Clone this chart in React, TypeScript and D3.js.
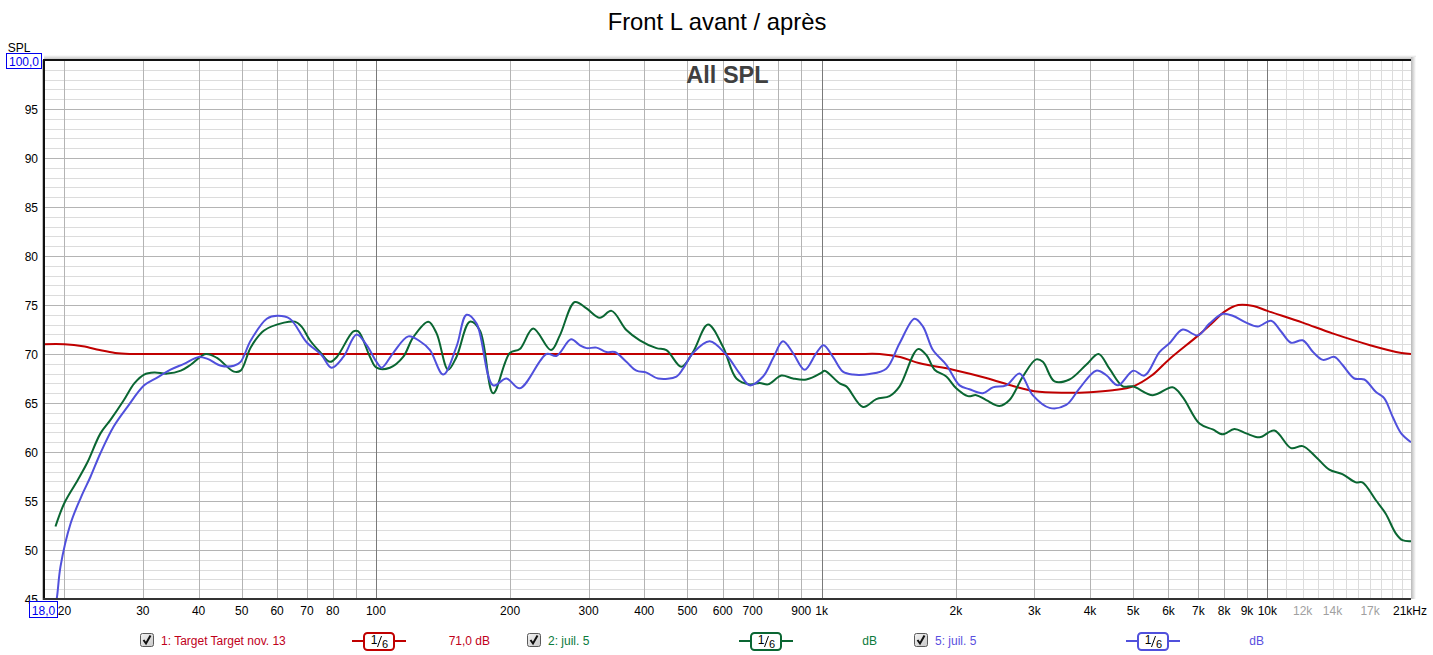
import React from 'react';
import * as d3 from 'd3';

// ---------- DATA ----------
const targetFreq = [18, 20, 22, 24, 26, 28, 32, 40, 60, 100, 200, 400, 700, 1000, 1200, 1350, 1500, 1660, 1970, 2340, 2700, 3000, 3500, 4000, 4500, 5000, 5500, 6000, 7000, 7500, 8000, 8600, 9300, 10000, 12000, 14000, 17000, 20000, 21000];
const targetDb = [71.0, 71.0, 70.8, 70.4, 70.1, 70.0, 70.0, 70.0, 70.0, 70.0, 70.0, 70.0, 70.0, 70.0, 70.0, 70.0, 69.7, 69.05, 68.4, 67.55, 66.7, 66.2, 66.05, 66.1, 66.3, 66.7, 67.8, 69.4, 71.9, 73.1, 74.3, 75.0, 74.9, 74.4, 73.2, 72.1, 70.9, 70.1, 70.0];

const avantFreq = [19.1, 20.0, 21.4, 22.5, 24.1, 25.4, 27.2, 28.7, 30.2, 31.8, 34.0, 36.5, 38.4, 41.5, 44.0, 48.0, 49.7, 52.4, 56.1, 62.2, 65.8, 68.1, 71.1, 74.9, 78.9, 81.7, 89.0, 91.3, 97.0, 100.3, 107.5, 115.1, 121.2, 131.1, 136.8, 145.2, 151.6, 162.4, 171.1, 183.2, 199.7, 210.3, 225.3, 247, 258.6, 279.4, 296.8, 317.8, 337.7, 364.6, 390.8, 425.9, 448.5, 484.5, 514.5, 556, 600.5, 643.7, 689.7, 726.2, 758.1, 812.3, 862.3, 923.9, 1000, 1015.6, 1097, 1136, 1238, 1326, 1420, 1496, 1644, 1717, 1792, 1904, 2004, 2128, 2222, 2340, 2506, 2639, 2828, 3029, 3135, 3330, 3597, 3922, 4180, 4422, 4738, 4989, 5533, 6128, 6457, 7040, 7541, 7942, 8434, 8960, 9600, 10368, 11300, 12000, 12850, 13770, 14730, 15790, 16340, 17500, 18430, 19410, 20090, 21000];
const avantDb = [52.4, 54.8, 57.1, 58.9, 61.9, 63.3, 65.3, 67.0, 67.9, 68.1, 68.0, 68.3, 68.9, 70.0, 69.6, 68.2, 68.3, 70.7, 72.4, 73.2, 73.3, 72.8, 71.4, 70.2, 69.2, 69.7, 72.3, 72.3, 69.7, 68.6, 68.6, 69.7, 71.7, 73.3, 72.1, 68.4, 69.7, 73.3, 72.4, 66.0, 70.1, 70.5, 72.6, 70.4, 71.9, 75.3, 74.65, 73.7, 74.4, 72.45, 71.4, 70.6, 70.4, 68.7, 70.2, 73.0, 70.75, 67.5, 66.9, 67.05, 66.9, 67.8, 67.5, 67.4, 68.1, 68.3, 67.0, 66.7, 64.6, 65.4, 65.7, 66.7, 70.5, 69.9, 68.4, 67.7, 66.5, 65.7, 65.8, 65.3, 64.7, 65.3, 67.7, 69.45, 69.2, 67.2, 67.4, 68.9, 70.0, 68.5, 66.7, 66.7, 65.8, 66.6, 65.6, 62.9, 62.3, 61.8, 62.35, 61.9, 61.5, 62.2, 60.4, 60.6, 59.5, 58.2, 57.75, 56.9, 56.9, 55.1, 53.7, 51.7, 51.0, 50.9];

const apresFreq = [19.0, 19.23, 19.6, 20.65, 21.8, 22.9, 24.1, 25.8, 27.7, 30.2, 32.3, 34.6, 37.1, 40.1, 41.9, 44.9, 48.0, 49.7, 52.4, 56.9, 60.1, 64.1, 69.9, 75.5, 79.5, 84.5, 90.5, 95.3, 100.3, 103, 109.3, 118.2, 125.5, 132.2, 141.6, 151.6, 159.7, 168.2, 183.2, 196.3, 210.3, 241.4, 254, 274, 286.5, 296.8, 312.5, 328.9, 343.6, 364.6, 384.1, 404.6, 429.6, 472.4, 488.7, 514.5, 561, 611.3, 654.9, 689.7, 738.8, 778, 818.7, 862.3, 916, 972.9, 1010, 1060, 1116, 1175, 1281, 1396, 1496, 1616, 1688, 1777, 1904, 2039, 2146, 2300, 2422, 2595, 2780, 2975, 3245, 3537, 3789, 4130, 4345, 4620, 5000, 5300, 5726, 6030, 6457, 6979, 7413, 7942, 8360, 8960, 9515, 10193, 10733, 11300, 12000, 12660, 13330, 14150, 14730, 15670, 16500, 17500, 18280, 19100, 19960, 21000];
const apresDb = [44.0, 45.07, 48.3, 52.7, 55.4, 57.5, 59.9, 62.6, 64.6, 66.8, 67.6, 68.4, 69.0, 69.7, 69.5, 68.8, 68.8, 69.2, 71.4, 73.6, 73.9, 73.6, 71.2, 69.9, 68.6, 69.7, 72.0, 70.9, 69.2, 68.6, 70.1, 71.8, 71.3, 70.4, 67.9, 70.75, 74.0, 73.1, 66.8, 67.5, 66.5, 70.0, 69.8, 71.5, 70.9, 70.6, 70.65, 70.2, 70.2, 69.2, 68.3, 68.1, 67.5, 67.7, 68.5, 70.1, 71.3, 69.9, 68.0, 66.8, 67.7, 69.56, 71.3, 70.1, 68.4, 70.1, 70.9, 69.7, 68.2, 67.9, 67.96, 68.5, 71.1, 73.6, 72.8, 70.4, 68.9, 66.8, 66.4, 66.0, 66.6, 66.8, 68.0, 65.8, 64.5, 64.8, 66.5, 68.3, 67.86, 66.8, 68.3, 67.8, 70.2, 71.1, 72.5, 71.9, 73.1, 74.1, 73.9, 73.2, 72.8, 73.4, 72.3, 71.15, 71.4, 70.2, 69.4, 69.7, 68.9, 67.5, 67.4, 66.15, 65.5, 63.6, 61.9, 61.0];

const yTicks = [45, 50, 55, 60, 65, 70, 75, 80, 85, 90, 95];
const xTickValues = [20, 30, 40, 50, 60, 70, 80, 100, 200, 300, 400, 500, 600, 700, 900, 1000, 2000, 3000, 4000, 5000, 6000, 7000, 8000, 9000, 10000, 12000, 14000, 17000, 21000];
const xTickLabels = ['20', '30', '40', '50', '60', '70', '80', '100', '200', '300', '400', '500', '600', '700', '900', '1k', '2k', '3k', '4k', '5k', '6k', '7k', '8k', '9k', '10k', '12k', '14k', '17k', '21kHz'];
const xTickFaded = [12000, 14000, 17000];

const legendNames = ['1: Target Target nov. 13', '2: juil. 5', '5: juil. 5'];
const legendValues = ['71,0 dB', 'dB', 'dB'];
const seriesColors = ['#c00000', '#0a6632', '#5050dc'];
const legendTextColors = ['#c0001a', '#0a7a3c', '#5a4fe0'];

// ---------- COMPONENT ----------
const W = 1433;
const H = 655;
const L = 44, R = 1411, T = 60, B = 599;
const FONT = '"Liberation Sans", Arial, sans-serif';

function Checkbox({ x, y }: { x: number; y: number }) {
  return (
    <g transform={`translate(${x},${y})`}>
      <rect x={0.5} y={0.5} width={13} height={13} rx={2} fill="url(#cbg)" stroke="#5a5a5a" />
      <path d="M3.5,7 L6,10.5 L10.5,2.5" fill="none" stroke="#111" strokeWidth={2} />
    </g>
  );
}

function Fraction({ cx, cy, color }: { cx: number; cy: number; color: string }) {
  return (
    <g>
      <line x1={cx - 27} x2={cx + 27} y1={cy} y2={cy} stroke={color} strokeWidth={2} />
      <rect x={cx - 15} y={cy - 8} width={30} height={17} rx={3.5} fill="#fff" stroke={color} strokeWidth={2} />
      <text x={cx - 5} y={cy + 3} fontSize={12} fontFamily={FONT} fill="#000" textAnchor="middle">1</text>
      <line x1={cx - 1.5} y1={cy + 6} x2={cx + 2.5} y2={cy - 5} stroke="#000" strokeWidth={1} />
      <text x={cx + 6} y={cy + 7} fontSize={11} fontFamily={FONT} fill="#000" textAnchor="middle">6</text>
    </g>
  );
}

export default function App() {
  const x = d3.scaleLog().domain([18, 21000]).range([L, R]);
  const y = d3.scaleLinear().domain([45, 100]).range([B, T]);
  const line = d3
    .line<[number, number]>()
    .x((d) => x(d[0]))
    .y((d) => y(d[1]))
    .curve(d3.curveCatmullRom.alpha(0.5));

  const series = [
    d3.zip(targetFreq, targetDb) as [number, number][],
    d3.zip(avantFreq, avantDb) as [number, number][],
    d3.zip(apresFreq, apresDb) as [number, number][],
  ];

  const vMedium: number[] = [];
  const vDecade = [100, 1000, 10000];
  const vFine: number[] = [];
  [10, 100, 1000].forEach((dec) => {
    for (let m = 2; m <= 9; m++) vMedium.push(m * dec);
  });
  for (let f = 11000; f <= 20000; f += 1000) vFine.push(f);
  const hMinor: number[] = [];
  for (let v = 46; v < 100; v++) if (v % 5 !== 0) hMinor.push(v);
  const hMajor = [50, 55, 60, 65, 70, 75, 80, 85, 90, 95];

  const legendCols = [0, 387, 774];

  return (
    <svg width={W} height={H} style={{ position: 'absolute', left: 0, top: 0, background: '#fff' }}>
      <defs>
        <clipPath id="plotClip">
          <rect x={L} y={T} width={R - L} height={B - T} />
        </clipPath>
        <linearGradient id="topShade" x1="0" y1="0" x2="0" y2="1">
          <stop offset="0" stopColor="#ffffff" />
          <stop offset="1" stopColor="#b8b8b8" />
        </linearGradient>
        <linearGradient id="rightShade" x1="0" y1="0" x2="1" y2="0">
          <stop offset="0" stopColor="#b8b8b8" />
          <stop offset="1" stopColor="#ffffff" />
        </linearGradient>
        <linearGradient id="cbg" x1="0" y1="0" x2="1" y2="1">
          <stop offset="0" stopColor="#f4f4f4" />
          <stop offset="1" stopColor="#c8c8c8" />
        </linearGradient>
      </defs>
      <rect x={0} y={0} width={W} height={H} fill="#fff" />

      {/* title */}
      <text x={717} y={30} textAnchor="middle" fontSize={23.8} fontFamily={FONT} fill="#000">Front L avant / après</text>

      {/* shading frame */}
      <rect x={L} y={T - 5} width={R - L + 5} height={5} fill="url(#topShade)" />
      <rect x={R} y={T - 3} width={5} height={B - T + 3} fill="url(#rightShade)" />

      {/* plot background */}
      <rect x={L} y={T} width={R - L} height={B - T} fill="#fff" />

      {/* grid */}
      <g shapeRendering="crispEdges">
        {hMinor.map((v) => (
          <line key={'hm' + v} x1={L} x2={R} y1={Math.round(y(v)) + 0.5} y2={Math.round(y(v)) + 0.5} stroke="#dcdcdc" />
        ))}
        {vFine.map((f) => (
          <line key={'vf' + f} x1={Math.round(x(f)) + 0.5} x2={Math.round(x(f)) + 0.5} y1={T} y2={B} stroke="#dcdcdc" />
        ))}
        {hMajor.map((v) => (
          <line key={'hM' + v} x1={L} x2={R} y1={Math.round(y(v)) + 0.5} y2={Math.round(y(v)) + 0.5} stroke="#b4b4b4" />
        ))}
        {vMedium.map((f) => (
          <line key={'vm' + f} x1={Math.round(x(f)) + 0.5} x2={Math.round(x(f)) + 0.5} y1={T} y2={B} stroke="#b4b4b4" />
        ))}
        {vDecade.map((f) => (
          <line key={'vd' + f} x1={Math.round(x(f)) + 0.5} x2={Math.round(x(f)) + 0.5} y1={T} y2={B} stroke="#7a7a7a" />
        ))}
      </g>

      {/* "All SPL" */}
      <text x={727.5} y={83} textAnchor="middle" fontSize={23.5} fontWeight="bold" fontFamily={FONT} fill="#404040">All SPL</text>

      {/* curves */}
      <g clipPath="url(#plotClip)" fill="none" strokeWidth={2} strokeLinejoin="round">
        {series.map((s, i) => (
          <path key={i} d={line(s) || ''} stroke={seriesColors[i]} />
        ))}
      </g>

      {/* axes frame */}
      <g shapeRendering="crispEdges">
        <line x1={L - 1.5} x2={L - 1.5} y1={T} y2={B + 1} stroke="#c0c0c0" />
        <line x1={L} x2={L} y1={T - 1} y2={B + 1} stroke="#111" strokeWidth={2} />
        <line x1={L} x2={R} y1={T} y2={T} stroke="#111" strokeWidth={2} />
        <line x1={L - 1} x2={R} y1={B} y2={B} stroke="#333" strokeWidth={2} />
      </g>

      {/* y ticks */}
      {yTicks.map((v) => (
        <text key={'yt' + v} x={38} y={y(v) + 4.5} textAnchor="end" fontSize={12} fontFamily={FONT} fill="#000">{v}</text>
      ))}
      <text x={19} y={52} textAnchor="middle" fontSize={12} fontFamily={FONT} fill="#000">SPL</text>
      <rect x={6.5} y={53.5} width={35} height={15} fill="#fff" stroke="#0000ee" />
      <text x={24} y={65.5} textAnchor="middle" fontSize={12} fontFamily={FONT} fill="#0000ee">100,0</text>

      {/* x ticks */}
      {xTickValues.map((f, i) => (
        <text
          key={'xt' + f}
          x={x(f) + (f === 21000 ? -1 : 0)}
          y={615}
          textAnchor="middle"
          fontSize={12}
          fontFamily={FONT}
          fill={xTickFaded.includes(f) ? '#a0a0a0' : '#000'}
        >
          {xTickLabels[i]}
        </text>
      ))}
      <rect x={29.5} y={601.5} width={28} height={16} fill="#fff" stroke="#0000ee" />
      <text x={43.5} y={614.5} textAnchor="middle" fontSize={12} fontFamily={FONT} fill="#0000ee">18,0</text>

      {/* legend */}
      {legendCols.map((dx, i) => (
        <g key={'lg' + i}>
          <Checkbox x={140 + dx} y={633} />
          <text x={161 + dx} y={645} fontSize={12} fontFamily={FONT} fill={legendTextColors[i]}>{legendNames[i]}</text>
          <Fraction cx={379 + dx} cy={641} color={seriesColors[i]} />
          <text x={490 + dx} y={645} textAnchor="end" fontSize={12} fontFamily={FONT} fill={legendTextColors[i]}>{legendValues[i]}</text>
        </g>
      ))}
    </svg>
  );
}
